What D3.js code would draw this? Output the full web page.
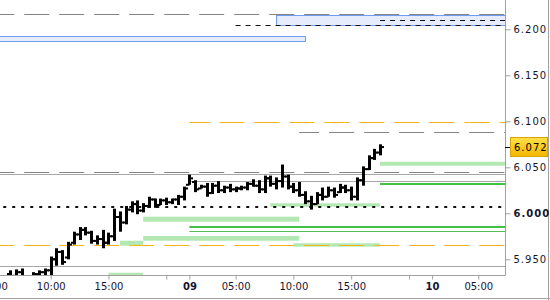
<!DOCTYPE html>
<html><head><meta charset="utf-8">
<script src="https://cdn.jsdelivr.net/npm/d3@7"></script>
<style>
html,body{margin:0;padding:0;background:#fff;}
svg{display:block;font-family:"DejaVu Sans",Verdana,sans-serif;}
</style></head>
<body><svg id="c" width="550" height="300"></svg>
<script>
// ---- data: 30-minute OHLC bars, slot index 0 = day 08 10:00 (trading slots only)
const barSlot = [-7,-6,-5,-4,-3,-2,-1,0,1,2,3,4,5,6,7,8,9,10,11,12,13,14,15,16,17,18,19,20,21,22,23,24,25,26,27,28,29,30,31,32,33,34,35,36,37,38,39,40,41,42,43,44,45,46,47,48,49,50,51,52,53,54,55,56,57];
const opens  = [5.934,5.932,5.936,5.930,5.926,5.934,5.936,5.938,5.950,5.958,5.952,5.968,5.977,5.982,5.979,5.970,5.972,5.968,5.975,5.996,5.990,6.004,6.010,6.003,6.008,6.015,6.009,6.014,6.012,6.015,6.018,6.031,6.034,6.027,6.029,6.022,6.030,6.025,6.028,6.026,6.027,6.028,6.032,6.030,6.026,6.038,6.032,6.035,6.040,6.029,6.025,6.020,6.013,6.010,6.020,6.018,6.025,6.023,6.028,6.025,6.018,6.036,6.048,6.060,6.066];
const highs  = [5.938,5.939,5.940,5.932,5.936,5.938,5.940,5.953,5.962,5.960,5.969,5.980,5.985,5.985,5.981,5.976,5.982,5.979,6.005,6.002,6.008,6.013,6.014,6.011,6.018,6.016,6.016,6.017,6.016,6.020,6.029,6.042,6.036,6.031,6.033,6.033,6.035,6.030,6.032,6.029,6.030,6.034,6.037,6.036,6.041,6.041,6.039,6.053,6.042,6.033,6.034,6.024,6.019,6.023,6.028,6.029,6.028,6.032,6.031,6.029,6.039,6.051,6.063,6.070,6.075];
const lows   = [5.929,5.930,5.928,5.922,5.924,5.929,5.930,5.931,5.943,5.944,5.950,5.966,5.971,5.976,5.967,5.966,5.962,5.966,5.970,5.980,5.988,6.001,5.999,6.001,6.006,6.006,6.009,6.009,6.010,6.009,6.014,6.031,6.023,6.027,6.018,6.021,6.022,6.022,6.023,6.023,6.025,6.025,6.029,6.022,6.022,6.029,6.026,6.028,6.026,6.022,6.018,6.010,6.004,6.010,6.014,6.018,6.017,6.022,6.022,6.014,6.014,6.030,6.047,6.058,6.063];
const closes = [5.932,5.936,5.930,5.926,5.934,5.936,5.938,5.950,5.958,5.947,5.966,5.977,5.982,5.979,5.970,5.972,5.968,5.975,5.996,5.990,6.004,6.010,6.003,6.008,6.015,6.009,6.014,6.012,6.015,6.018,6.027,6.038,6.026,6.029,6.022,6.030,6.025,6.028,6.026,6.027,6.028,6.032,6.030,6.026,6.038,6.032,6.035,6.040,6.029,6.025,6.020,6.013,6.010,6.020,6.018,6.025,6.020,6.028,6.025,6.018,6.036,6.048,6.060,6.066,6.072];
const lastPrice = 6.072;

// x axis ticks (slot index) and labels
const xTickSlots  = [-10, 0, 10, 20, 24, 32, 42, 52, 62, 66, 74];
const xTickLabels = ["05:00","10:00","15:00","","09","05:00","10:00","15:00","","10","05:00"];
const dayLabels = ["09","10"];
// y axis ticks
const yTicks = [5.95, 6.00, 6.05, 6.10, 6.15, 6.20];

// horizontal levels (price, starting slot; null = from left edge)
const grayDashPrice = [6.2163, 6.0446, 6.0880];
const grayDashFrom  = [null, null, 43];
const graySolidPrice = [6.0422, 6.0351, 5.9427];
const graySolidFrom  = [null, 24, null];
const orangeDashPrice = [6.0992, 5.9650];
const orangeDashFrom  = [24, null];
const blackDashPrice = [6.2050, 6.2100];
const blackDashFrom  = [32, 57];
const dottedPrice = [6.0072];
const greenThickPrice = [5.9854, 6.0318];
const greenThickFrom  = [24, 57];
const greenThinPrice = [5.9808];
const greenThinFrom  = [24];
// zones
const blueLow  = [6.2047, 6.1870];
const blueHigh = [6.2155, 6.1927];
const blueFrom = [39, null];
const blueTo   = [null, 44];
const greenLow  = [6.0517, 6.0072, 5.9909, 5.9702, 5.9648, 5.9637, 5.9320];
const greenHigh = [6.0560, 6.0109, 5.9963, 5.9753, 5.9702, 5.9674, 5.9354];
const greenFrom = [57, 38, 16, 16, 12, 42, 10];
const greenTo   = [null, 57, 43, 43, 16, 57, 16];

// ---- layout
const W = 550, H = 300, plotR = 505, plotB = 275;
const svg = d3.select("#c");
svg.append("rect").attr("width",W).attr("height",H).attr("fill","#fff");

const x = d3.scaleLinear().domain([0, 74]).range([50.7, 478.3]);
const y = d3.scaleLinear().domain([5.93293, 6.23185]).range([plotB, 0]);
const leftSlot = x.invert(0), rightSlot = x.invert(plotR);

svg.append("clipPath").attr("id","clip").append("rect")
  .attr("x",0).attr("y",0).attr("width",plotR).attr("height",plotB);
const g = svg.append("g").attr("clip-path","url(#clip)");

const xs = s => s === null ? x(leftSlot - 1) : x(s);
const xe = s => s === null ? x(rightSlot + 1) : x(s);

// zones
blueLow.forEach((lo,i)=>{
  g.append("rect").attr("x",xs(blueFrom[i])+0.5).attr("y",Math.round(y(blueHigh[i]))+0.5)
   .attr("width",xe(blueTo[i])-xs(blueFrom[i])).attr("height",Math.round(y(lo))-Math.round(y(blueHigh[i])))
   .attr("fill","#e6ecfb").attr("stroke","#6d9cf0").attr("stroke-width",1);
});
greenLow.forEach((lo,i)=>{
  g.append("rect").attr("x",xs(greenFrom[i])).attr("y",y(greenHigh[i]))
   .attr("width",xe(greenTo[i])-xs(greenFrom[i])).attr("height",y(lo)-y(greenHigh[i]))
   .attr("fill","#b3e8b3");
});

function hline(p, from, color, w, dash, off){
  const yy = Math.round(y(p)) + (w%2 ? 0.5 : 0);
  g.append("line").attr("x1",xs(from)).attr("x2",xe(null)).attr("y1",yy).attr("y2",yy)
   .attr("stroke",color).attr("stroke-width",w)
   .attr("stroke-dasharray",dash||null).attr("stroke-dashoffset",off||0);
}
graySolidPrice.forEach((p,i)=>hline(p, graySolidFrom[i], "#a6a6a6", 1));
grayDashPrice.forEach((p,i)=>hline(p, grayDashFrom[i], "#848484", 1, "25,10", 5));
orangeDashPrice.forEach((p,i)=>hline(p, orangeDashFrom[i], "#f7b516", 1, "25,10", 5));
blackDashPrice.forEach((p,i)=>hline(p, blackDashFrom[i], "#111", 1, "5,5", 0));
dottedPrice.forEach(p=>hline(p, null, "#111", 2, "3,6", 0));
greenThickPrice.forEach((p,i)=>hline(p, greenThickFrom[i], "#44c044", 2));
greenThinPrice.forEach((p,i)=>hline(p, greenThinFrom[i], "#55bb55", 1));

// OHLC bars
const bars = g.append("g").attr("stroke","#000");
barSlot.forEach((s,i)=>{
  const cx = Math.round(x(s)) + 0.5;
  bars.append("line").attr("x1",cx).attr("x2",cx).attr("y1",y(highs[i])).attr("y2",y(lows[i])).attr("stroke-width",3);
  bars.append("line").attr("x1",cx-3.5).attr("x2",cx).attr("y1",y(opens[i])).attr("y2",y(opens[i])).attr("stroke-width",2);
  bars.append("line").attr("x1",cx).attr("x2",cx+3.5).attr("y1",y(closes[i])).attr("y2",y(closes[i])).attr("stroke-width",2);
});

// axes frame
svg.append("line").attr("x1",plotR+0.5).attr("x2",plotR+0.5).attr("y1",0).attr("y2",plotB+0.5).attr("stroke","#a0a0a0");
svg.append("line").attr("x1",0).attr("x2",plotR+0.5).attr("y1",plotB+0.5).attr("y2",plotB+0.5).attr("stroke","#a0a0a0");
svg.append("line").attr("x1",0).attr("x2",W).attr("y1",H-1.5).attr("y2",H-1.5).attr("stroke","#a0a0a0");
svg.append("line").attr("x1",W-1.5).attr("x2",W-1.5).attr("y1",0).attr("y2",H).attr("stroke","#a0a0a0");

// y axis
const yAxis = svg.append("g").attr("transform",`translate(${plotR+0.5},0)`)
  .call(d3.axisRight(y).tickValues(yTicks).tickFormat(d3.format(".3f")).tickSize(5).tickPadding(3));
yAxis.select(".domain").remove();
yAxis.selectAll(".tick line").attr("stroke","#a0a0a0");
yAxis.selectAll(".tick text").attr("fill","#151530").attr("font-size","10px")
  .attr("font-family","DejaVu Sans").attr("letter-spacing","1px")
  .attr("font-weight",d=>Math.abs(d-6)<1e-9?"bold":"normal");

// x axis
const xAxis = svg.append("g").attr("transform",`translate(0,${plotB+0.5})`)
  .call(d3.axisBottom(x).tickValues(xTickSlots).tickFormat((d,i)=>xTickLabels[i]).tickSize(4).tickPadding(3));
xAxis.select(".domain").remove();
xAxis.selectAll(".tick line").attr("stroke","#a0a0a0");
xAxis.selectAll(".tick text").attr("fill","#151530").attr("font-size","10px")
  .attr("font-family","DejaVu Sans")
  .attr("font-weight",(d,i)=>dayLabels.includes(xTickLabels[i])?"bold":"normal");

// last price marker
const ly = Math.round(y(lastPrice));
const grad = svg.append("defs").append("linearGradient").attr("id","gold").attr("x1",0).attr("x2",0).attr("y1",0).attr("y2",1);
grad.append("stop").attr("offset","0").attr("stop-color","#ffe14a");
grad.append("stop").attr("offset","1").attr("stop-color","#f2b600");
svg.append("line").attr("x1",plotR).attr("x2",plotR+6).attr("y1",ly+0.5).attr("y2",ly+0.5).attr("stroke","#000");
svg.append("rect").attr("x",510.5).attr("y",ly-9.5).attr("width",37).attr("height",19)
  .attr("fill","url(#gold)").attr("stroke","#d9a400");
svg.append("text").attr("x",514).attr("y",ly).attr("dy","0.35em").attr("font-size","10px")
  .attr("letter-spacing","1px").attr("fill","#000").text(d3.format(".3f")(lastPrice));
</script></body></html>
